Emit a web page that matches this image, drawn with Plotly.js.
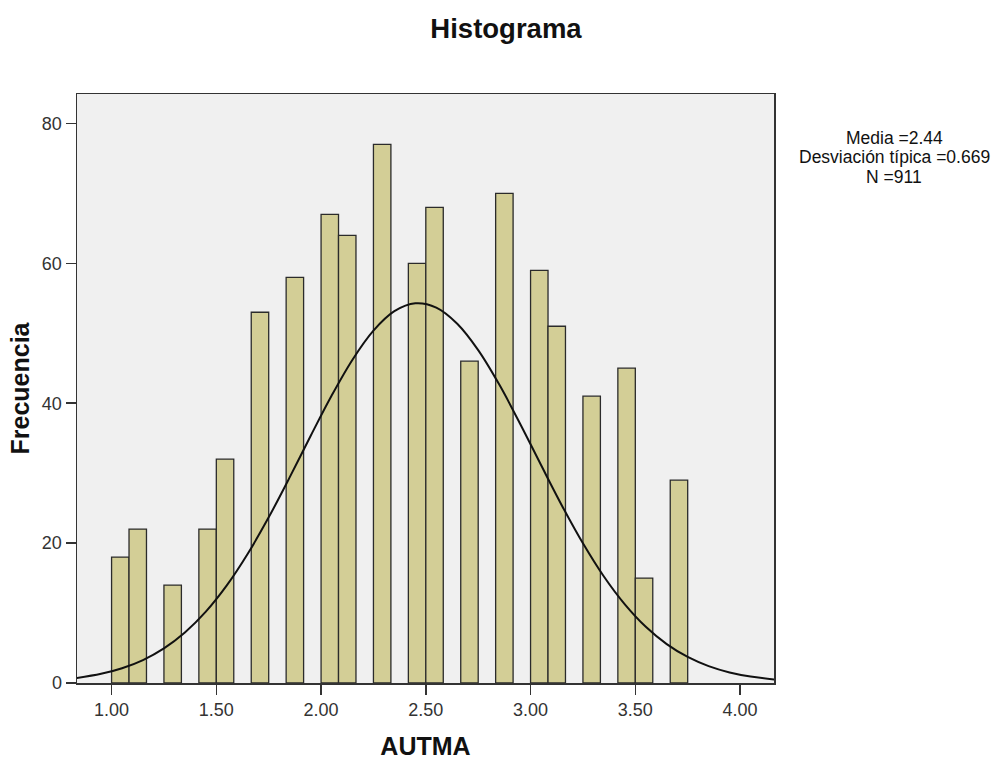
<!DOCTYPE html>
<html>
<head>
<meta charset="utf-8">
<script src="https://cdn.plot.ly/plotly-3.0.1.min.js"></script>
<style>html,body{margin:0;padding:0;background:#fff;}#chart{width:1003px;height:761px;}</style>
</head>
<body>
<div id="chart"></div>
<script>
// Histogram bins (left edges) and frequencies
var binStarts = [1.0, 1.0833, 1.25, 1.4167, 1.5, 1.6667, 1.8333, 2.0, 2.0833, 2.25,
                 2.4167, 2.5, 2.6667, 2.8333, 3.0, 3.0833, 3.25, 3.4167, 3.5, 3.6667];
var frequencies = [18, 22, 14, 22, 32, 53, 58, 67, 64, 77,
                   60, 68, 46, 70, 59, 51, 41, 45, 15, 29];
var binWidth = 1/12;

// Normal curve
var curveX = [0.83, 0.95, 1.05, 1.15, 1.25, 1.35, 1.45, 1.55, 1.65, 1.75, 1.85, 1.95,
              2.05, 2.15, 2.25, 2.35, 2.45, 2.55, 2.65, 2.75, 2.85, 2.95, 3.05, 3.15,
              3.25, 3.35, 3.45, 3.55, 3.65, 3.75, 3.85, 3.95, 4.05, 4.17];
var curveY = [0.70, 1.31, 2.11, 3.28, 4.95, 7.22, 10.2, 13.95, 18.48, 23.68, 29.39, 35.31,
              41.06, 46.22, 50.37, 53.15, 54.28, 53.67, 51.36, 47.59, 42.69, 37.07, 31.16, 25.35,
              19.97, 15.22, 11.24, 8.03, 5.56, 3.72, 2.41, 1.51, 0.92, 0.48];

var xTicks = [1.0, 1.5, 2.0, 2.5, 3.0, 3.5, 4.0];
var yTicks = [0, 20, 40, 60, 80];
var statsLines = ['Media =2.44', 'Desviación típica =0.669', 'N =911'];

var FONT = 'Liberation Sans, Arial, sans-serif';

var bars = {
  type: 'bar',
  x: binStarts,
  y: frequencies,
  width: binWidth,
  offset: 0,
  marker: {color: '#d3ce96', line: {color: '#2b2b2b', width: 1.3}},
  hoverinfo: 'x+y',
  showlegend: false
};
var curve = {
  type: 'scatter',
  mode: 'lines',
  x: curveX,
  y: curveY,
  line: {color: '#111', width: 2, shape: 'spline'},
  hoverinfo: 'skip',
  showlegend: false
};

var annotations = statsLines.map(function (t, i) {
  return {
    text: t, xref: 'paper', yref: 'paper',
    x: 1 + (895 - 774.5) / 697.5, y: 1 - (138 + i * 19.5 - 94) / 589.5,
    xanchor: 'center', yanchor: 'middle', showarrow: false,
    font: {family: FONT, size: 17.5, color: '#111'}
  };
});

var layout = {
  width: 1003, height: 761,
  margin: {l: 77, r: 228.5, t: 94, b: 77.5, pad: 0},
  paper_bgcolor: '#ffffff',
  plot_bgcolor: '#f0f0f0',
  bargap: 0,
  title: {
    text: 'Histograma', x: 506 / 1003, xref: 'container', xanchor: 'center',
    y: 1 - 28 / 761, yref: 'container', yanchor: 'middle',
    font: {family: FONT, size: 27.5, color: '#111', weight: 700}
  },
  xaxis: {
    range: [0.835, 4.162],
    tickvals: xTicks, tickformat: '.2f',
    ticks: 'outside', ticklen: 10, tickwidth: 1.5, tickcolor: '#333',
    showline: true, linecolor: '#333', linewidth: 1.5, mirror: true,
    showgrid: false, zeroline: false,
    tickfont: {family: FONT, size: 18, color: '#333'},
    title: {text: 'AUTMA', standoff: 18, font: {family: FONT, size: 25, color: '#111', weight: 700}},
    automargin: false, fixedrange: true
  },
  yaxis: {
    range: [0, 84.2],
    tickvals: yTicks,
    ticks: 'outside', ticklen: 10, tickwidth: 1.5, tickcolor: '#333',
    showline: true, linecolor: '#333', linewidth: 1.5, mirror: true,
    showgrid: false, zeroline: false,
    tickfont: {family: FONT, size: 18, color: '#333'},
    title: {text: 'Frecuencia', standoff: 5, font: {family: FONT, size: 25, color: '#111', weight: 700}},
    automargin: false, fixedrange: true
  },
  annotations: annotations
};

Plotly.newPlot('chart', [bars, curve], layout, {displayModeBar: false, staticPlot: true});
</script>
</body>
</html>
